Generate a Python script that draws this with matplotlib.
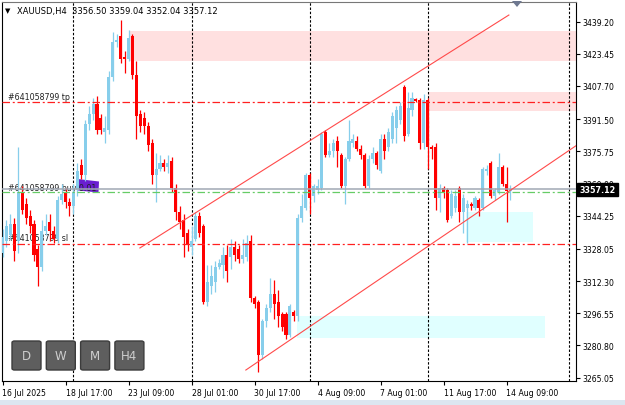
import matplotlib
matplotlib.use("Agg")
import matplotlib.pyplot as plt
import matplotlib.transforms as mtransforms
from matplotlib.patches import Rectangle, Polygon, FancyBboxPatch

# ---- data: XAUUSD H4 candles (bar index 0 = 16 Jul 2025 01:00) ----
opens = [3326, 3332, 3335, 3340, 3332, 3356, 3350, 3344, 3340, 3328,
         3319, 3337, 3341, 3337, 3333, 3352, 3356, 3351, 3349, 3357,
         3369, 3364, 3389, 3394, 3399, 3392, 3385, 3386, 3412, 3429,
         3432, 3422, 3421, 3432, 3413, 3394, 3392, 3388, 3380, 3364,
         3367, 3370, 3368, 3371, 3358, 3346, 3342, 3336, 3329, 3333,
         3344, 3339, 3302, 3310, 3312, 3319, 3320, 3325, 3324, 3329,
         3328, 3323, 3324, 3332, 3304, 3302, 3276, 3293, 3299, 3306,
         3302, 3296, 3296, 3286, 3297, 3295, 3343, 3348, 3364, 3354,
         3357, 3358, 3385, 3374, 3376, 3381, 3374, 3359, 3372, 3380,
         3381, 3377, 3374, 3359, 3372, 3375, 3366, 3382, 3378, 3382,
         3387, 3391, 3407, 3384, 3396, 3401.5, 3401, 3380, 3401, 3378,
         3378, 3353, 3358, 3357, 3344, 3348, 3358, 3346, 3348, 3350,
         3348, 3352, 3348, 3366, 3370, 3354, 3356, 3368, 3360, 3356.50]
highs = [3338, 3342, 3345, 3343, 3378, 3359, 3353, 3347, 3342, 3330,
         3342, 3345, 3345, 3339, 3354, 3360, 3358, 3353, 3360, 3370,
         3372, 3391, 3398, 3402, 3403, 3394, 3393, 3415, 3434, 3433,
         3440, 3425, 3435, 3433, 3420, 3396, 3395, 3390, 3382, 3375,
         3374, 3372, 3374, 3373, 3360, 3349, 3345, 3338, 3339, 3346,
         3346, 3340, 3320, 3320, 3322, 3323, 3329, 3330, 3333, 3332,
         3330, 3333, 3335, 3335, 3305, 3303, 3294, 3301, 3314, 3313,
         3308, 3297, 3297, 3301, 3298, 3345, 3355, 3365, 3365, 3360,
         3362, 3385, 3386, 3380, 3382, 3383, 3375, 3373, 3391, 3384,
         3383, 3379, 3375, 3374, 3378, 3376, 3384, 3384, 3387, 3395,
         3398, 3400, 3408, 3405, 3405, 3402, 3402, 3404, 3402, 3379,
         3380, 3360, 3359, 3358, 3357, 3357, 3359, 3355, 3352, 3351,
         3354, 3353, 3368, 3369, 3371, 3358, 3375, 3369, 3368, 3359.04]
lows = [3324, 3329, 3333, 3322, 3326, 3345, 3340, 3336, 3322, 3310,
        3317, 3335, 3332, 3331, 3331, 3350, 3348, 3344, 3345, 3354,
        3362, 3361, 3386, 3391, 3384, 3384, 3380, 3384, 3410, 3427,
        3419, 3414, 3420, 3411, 3382, 3385, 3384, 3376, 3360, 3351,
        3366, 3366, 3365, 3356, 3342, 3338, 3324, 3327, 3325, 3332,
        3334, 3301, 3300, 3306, 3307, 3318, 3314, 3312, 3318, 3322,
        3321, 3321, 3322, 3302, 3299, 3268, 3274, 3290, 3297, 3294,
        3290, 3288, 3284, 3285, 3293, 3293, 3341, 3347, 3345, 3351,
        3355, 3357, 3373, 3373, 3373, 3368, 3358, 3350, 3371, 3378,
        3376, 3372, 3358, 3358, 3370, 3367, 3365, 3372, 3376, 3380,
        3380, 3389, 3381, 3383, 3393, 3400, 3377, 3377, 3367, 3372,
        3347, 3346, 3353, 3341, 3343, 3346, 3341, 3336, 3331, 3347,
        3347, 3344, 3347, 3364, 3353, 3352, 3355, 3359, 3341, 3352.04]
closes = [3334, 3339, 3340, 3327, 3356, 3347, 3343, 3339, 3325, 3319,
          3337, 3339, 3337, 3333, 3352, 3355, 3351, 3349, 3356, 3366,
          3364, 3389, 3394, 3399, 3386, 3386, 3387, 3412, 3429, 3430,
          3421, 3421, 3431, 3413, 3393, 3388, 3388, 3379, 3364, 3367,
          3370, 3368, 3370, 3358, 3346, 3341, 3334, 3330, 3332, 3344,
          3336, 3302, 3312, 3315, 3319, 3321, 3325, 3317, 3329, 3325,
          3323, 3325, 3331, 3304, 3301, 3276, 3293, 3299, 3306, 3301,
          3295, 3290, 3286, 3300, 3295, 3343, 3349, 3364, 3353, 3359,
          3359, 3384, 3374, 3376, 3380, 3376, 3359, 3372, 3381, 3382,
          3377, 3374, 3359, 3372, 3375, 3369, 3382, 3376, 3385, 3393,
          3396, 3398, 3383, 3397, 3402, 3400.5, 3380, 3401, 3378, 3377,
          3353, 3358, 3356, 3342, 3355, 3354, 3346, 3353, 3350, 3349,
          3353, 3348, 3367, 3367, 3354, 3357, 3368, 3360, 3356.5, 3357.12]

date_ticks = [0, 16, 32, 48, 64, 80, 96, 112, 128]
date_labels = ["16 Jul 2025", "18 Jul 17:00", "23 Jul 09:00", "28 Jul 01:00",
               "30 Jul 17:00", "4 Aug 09:00", "7 Aug 01:00", "11 Aug 17:00",
               "14 Aug 09:00"]
price_ticks = [3439.20, 3423.45, 3407.70, 3391.50, 3375.75, 3360.00,
               3344.25, 3328.05, 3312.30, 3296.55, 3280.80, 3265.05]
week_breaks = [18, 48, 78, 108, 143.9]

# order levels
tp_price = 3400.00
sl_price = 3330.40
entry_price = 3355.70
bid_price = 3357.12
ohlc_header = "XAUUSD,H4  3356.50 3359.04 3352.04 3357.12"
order_id = "#641058799"

# zones: (start bar, end bar or None for right edge, low, high)
supply_zones = [(32.2, None, 3419.7, 3434.5), (108.1, None, 3395.4, 3404.7)]
demand_zones = [(117.7, 134.7, 3331.3, 3346.2), (74.8, 137.8, 3284.4, 3295.3)]
# channel trend lines: ((bar, price), (bar, price))
channel_upper = ((34.9, 3328.5), (128.6, 3442.4))
channel_lower = ((61.8, 3268.8), (146.5, 3379.6))

buttons = ["D", "W", "M", "H4"]

# ---- layout (pixels) ----
W, H = 625, 406
AX_L, AX_R, AX_T, AX_B = 2, 576, 3, 382
X0_PX, BAR_PX = 2.5, 3.9375
P_AT_TOP, P_AT_BOTTOM = 3448.77, 3263.44

BULL = "#87CEEB"
BEAR = "#FF0000"


def fx(px):
    return px / W


def fy(py):
    return 1 - py / H


def bar_at(px):
    return (px - X0_PX) / BAR_PX


def main() -> None:
    plt.rcParams["font.family"] = ["DejaVu Sans"]
    fig = plt.figure(figsize=(W / 100, H / 100), dpi=100)
    fig.patch.set_facecolor("white")
    ax = fig.add_axes([fx(AX_L), fy(AX_B), fx(AX_R - AX_L), (AX_B - AX_T) / H])
    x_lo, x_hi = bar_at(AX_L), bar_at(AX_R)
    ax.set_xlim(x_lo, x_hi)
    ax.set_ylim(P_AT_BOTTOM, P_AT_TOP)

    # zones
    for x0, x1, lo, hi in supply_zones:
        x1 = x_hi + 1 if x1 is None else x1
        ax.add_patch(Rectangle((x0, lo), x1 - x0, hi - lo, fc="#FFE0E0", ec="none", zorder=0.5))
    for x0, x1, lo, hi in demand_zones:
        ax.add_patch(Rectangle((x0, lo), x1 - x0, hi - lo, fc="#E0FFFF", ec="none", zorder=0.5))

    # week separators
    for wb in week_breaks:
        ax.axvline(wb, color="black", lw=0.8, ls=(0, (2.2, 1.6)), zorder=1)

    # order labels (under the candles)
    lab_x = bar_at(8)
    ax.text(lab_x, tp_price + 0.6, f"{order_id} tp", fontsize=5.7, color="#222222",
            va="bottom", ha="left", zorder=1.2)
    ax.text(lab_x, sl_price + 0.8, f"{order_id} sl", fontsize=5.7, color="#222222",
            va="bottom", ha="left", zorder=1.2)
    ax.add_patch(Polygon([(bar_at(78), 3362.2), (bar_at(99), 3361.0),
                          (bar_at(98.5), 3355.6), (bar_at(78), 3356.6)],
                         closed=True, fc="#6A1FD0", ec="none", zorder=1.1))
    ax.text(lab_x, 3355.8, f"{order_id} buy 0.01", fontsize=5.7, color="#222222",
            va="bottom", ha="left", zorder=1.2)

    # candles
    xs = list(range(len(opens)))
    for i in xs:
        o, h, l, c = opens[i], highs[i], lows[i], closes[i]
        col = BULL if c >= o else BEAR
        ax.vlines(i, l, h, color=col, lw=0.9, zorder=3)
        body = max(abs(c - o), 0.5)
        ax.bar(i, body, bottom=min(o, c), width=0.78, color=col, lw=0, zorder=3.1)

    # level lines
    ax.axhline(tp_price, color="#FF2020", lw=0.9, ls=(0, (6, 2.2, 1.6, 2.2)), zorder=4)
    ax.axhline(sl_price, color="#FF2020", lw=0.9, ls=(0, (6, 2.2, 1.6, 2.2)), zorder=4)
    ax.axhline(entry_price, color="#66CC66", lw=0.9, ls=(0, (6, 2.2, 1.6, 2.2)), zorder=4)
    ax.axhline(bid_price, color="#A0A8B4", lw=1.1, zorder=4)

    # channel
    for (xa, ya), (xb, yb) in (channel_upper, channel_lower):
        ax.plot([xa, xb], [ya, yb], color="#FF4A4A", lw=0.8, zorder=5)

    # axes styling
    for side in ("left", "bottom", "right"):
        ax.spines[side].set_color("black")
        ax.spines[side].set_linewidth(0.8)
    ax.spines["top"].set_color("#777777")
    ax.spines["top"].set_linewidth(0.8)
    ax.yaxis.tick_right()
    ax.set_yticks(price_ticks)
    ax.set_yticklabels([f"{p:.2f}" for p in price_ticks])
    ax.tick_params(axis="y", direction="out", length=3, width=0.8, labelsize=5.6, pad=2)
    ax.set_xticks(date_ticks)
    ax.set_xticklabels(date_labels, ha="left")
    ax.tick_params(axis="x", direction="out", length=3, width=0.8, labelsize=5.6, pad=2)

    # bid price box on the axis
    trans = mtransforms.blended_transform_factory(ax.transAxes, ax.transData)
    ax.text(1.006, bid_price, f"{bid_price:.2f}", transform=trans, fontsize=5.8,
            color="white", fontweight="bold", va="center", ha="left", zorder=10,
            bbox=dict(boxstyle="square,pad=0.25", fc="black", ec="black"), clip_on=False)

    # header
    fig.text(fx(5), fy(11), "\u25bc", fontsize=5, color="black", va="center", ha="left")
    fig.text(fx(17), fy(11.5), ohlc_header, fontsize=6, color="black", va="center", ha="left")
    fig.patches.append(Polygon([(fx(512), fy(2)), (fx(522), fy(2)), (fx(517), fy(8))],
                               closed=True, fc="#6E7890", ec="none",
                               transform=fig.transFigure, figure=fig))

    # timeframe buttons
    left = 12
    for name in buttons:
        btn = FancyBboxPatch((fx(left), fy(371)), fx(29), 29 / H,
                             boxstyle="round,pad=0,rounding_size=0.004",
                             fc="#5E5E5E", ec="#3C3C3C", lw=1.0,
                             transform=fig.transFigure, figure=fig, zorder=5)
        fig.patches.append(btn)
        fig.text(fx(left + 14.5), fy(356.5), name, fontsize=8.5, color="#CFCFCF",
                 va="center", ha="center", zorder=6)
        left += 34.3

    # status strip at the bottom
    fig.patches.append(Rectangle((0, 0), 1, 5 / H, fc="#DCE6F0", ec="none",
                                 transform=fig.transFigure, figure=fig))

    fig.savefig("out.png", dpi=100)


if __name__ == "__main__":
    main()
